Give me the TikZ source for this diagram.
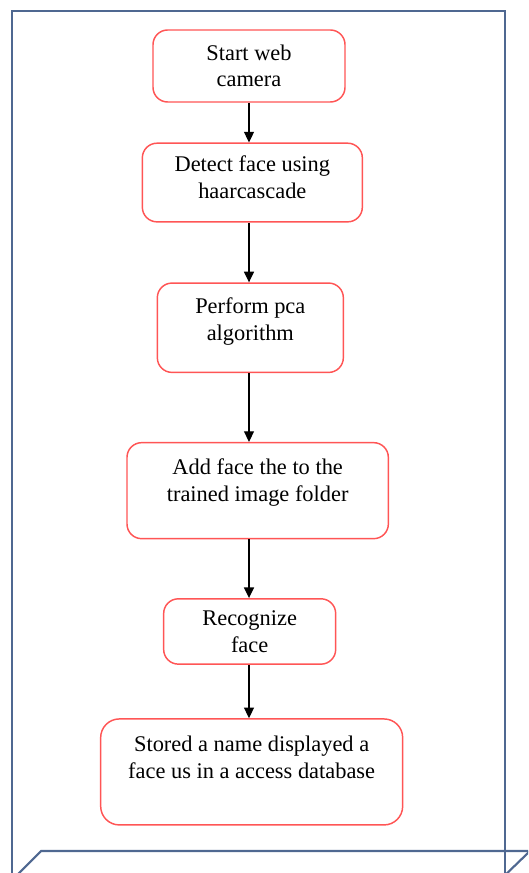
\documentclass[tikz,border=0pt]{standalone}
\usepackage{fontspec}
\setmainfont{Liberation Serif}
\usetikzlibrary{arrows.meta,positioning}
\definecolor{boxred}{RGB}{255,85,85}
\definecolor{frameblue}{RGB}{79,104,145}

\begin{document}
\begin{tikzpicture}[x=0.75pt,y=-0.75pt,
  stepbox/.style={rectangle,rounded corners=11pt,draw=boxred,line width=1.1pt,
                  fill=white,align=center,inner sep=2pt,
                  font=\fontsize{16.8}{20}\selectfont},
  arr/.style={-{Triangle[length=8pt,width=7.5pt]},line width=1pt,black}
]
  \useasboundingbox (0,0) rectangle (528,873);
  \clip (0,0) rectangle (528,873);

  % outer frame
  \draw[frameblue,line width=1.6pt] (12,880) -- (12,11) -- (505,11) -- (505,880);
  \draw[frameblue,line width=1.6pt] (12,880) -- (41,851) -- (540,851);
  \draw[frameblue,line width=1.6pt] (500,880) -- (530,851);

  % steps
  \node[stepbox,minimum width=144pt,minimum height=54pt] (cam) at (249,66) {Start web\\camera};
  \node[stepbox,minimum width=165pt,minimum height=59pt,text depth=8pt,
        below=29.8pt of cam,xshift=2.5pt] (detect) {Detect face using\\haarcascade};
  \node[stepbox,minimum width=139.5pt,minimum height=67pt,text depth=13pt,
        below=44.8pt of detect,xshift=-1.5pt] (pca) {Perform pca\\algorithm};
  \node[stepbox,minimum width=196pt,minimum height=72pt,text depth=16pt,
        below=51.6pt of pca,xshift=5.5pt] (add) {Add face the to the\\trained image folder};
  \node[stepbox,minimum width=129pt,minimum height=49pt,
        below=44pt of add,xshift=-6pt] (recog) {Recognize\\face};
  \node[stepbox,minimum width=226.5pt,minimum height=79.5pt,text depth=22pt,rounded corners=14pt,
        below=40pt of recog,xshift=1.5pt] (store) {Stored a name displayed a\\face us in a access database};

  % arrows
  \draw[arr] (cam.south) -- (cam.south |- detect.north);
  \draw[arr] (cam.south |- detect.south) -- (cam.south |- pca.north);
  \draw[arr] (cam.south |- pca.south) -- (cam.south |- add.north);
  \draw[arr] (cam.south |- add.south) -- (cam.south |- recog.north);
  \draw[arr] (cam.south |- recog.south) -- (cam.south |- store.north);
\end{tikzpicture}
\end{document}
